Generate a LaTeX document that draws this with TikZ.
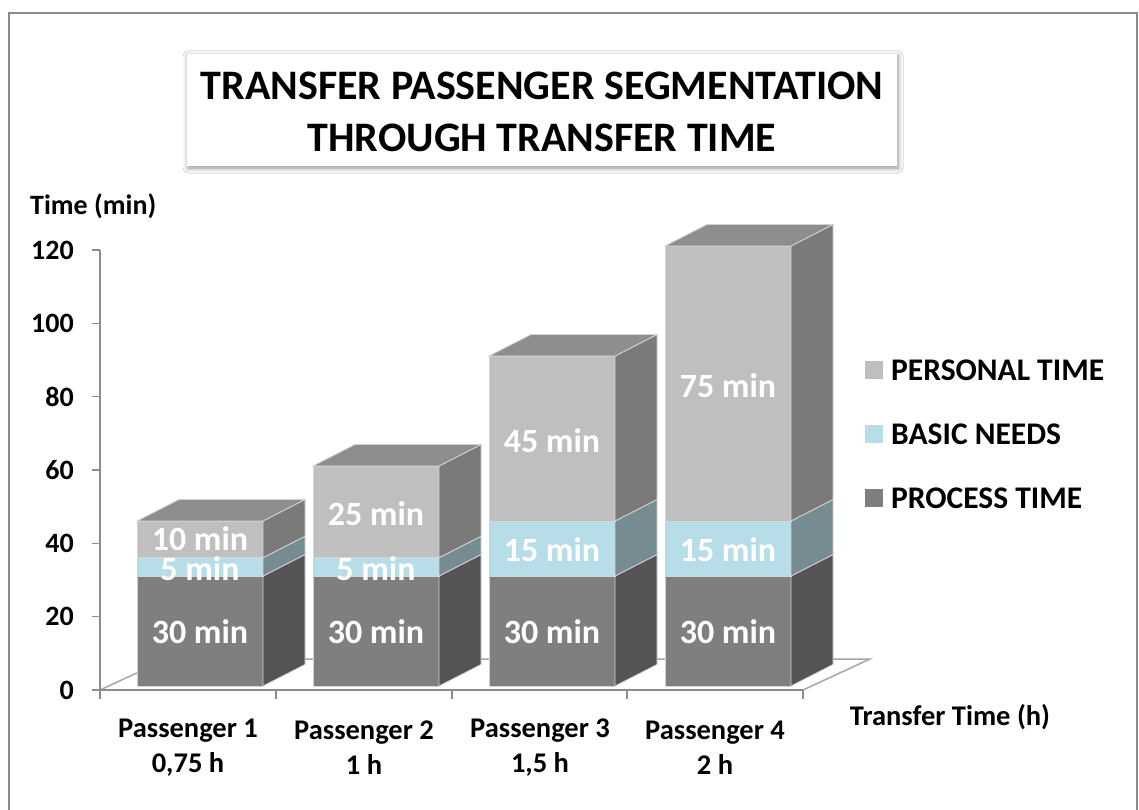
\documentclass[tikz,border=0pt]{standalone}
\usepackage{fontspec}
\setmainfont{Carlito}
\usetikzlibrary{shadows.blur}
\definecolor{framec}{HTML}{8A8A8A}
\definecolor{axisc}{HTML}{8C8C8C}
\definecolor{floorc}{HTML}{A6A6A6}
\definecolor{edgec}{HTML}{D4D4D4}
\definecolor{perfront}{HTML}{BFBFBF}
\definecolor{perside}{HTML}{7A7A7A}
\definecolor{pertop}{HTML}{8E8E8E}
\definecolor{basfront}{HTML}{B7DEE8}
\definecolor{basside}{HTML}{768C92}
\definecolor{profront}{HTML}{7F7F7F}
\definecolor{proside}{HTML}{545454}
\newcommand\barseg[5]{%
  \filldraw[fill=#4, draw=edgec, line width=0.8pt] (#1,#3) rectangle (#1+126,#2);
  \filldraw[fill=#5, draw=edgec, line width=0.8pt] (#1+126,#3) -- (#1+168,#3-21.5) -- (#1+168,#2-21.5) -- (#1+126,#2) -- cycle;
}
\newcommand\bartop[2]{%
  \filldraw[fill=pertop, draw=edgec, line width=0.8pt] (#1,#2) -- (#1+42,#2-21.5) -- (#1+168,#2-21.5) -- (#1+126,#2) -- cycle;
}
\tikzset{
  barlbl/.style={text=white, font=\fontsize{34}{40}\selectfont\bfseries, inner sep=0pt},
  ylbl/.style={anchor=east, font=\fontsize{28}{32}\selectfont\bfseries, inner sep=0pt},
  xlbl/.style={align=center, font=\fontsize{28.5}{35}\selectfont\bfseries, inner sep=0pt},
  leglbl/.style={anchor=west, font=\fontsize{31.5}{36}\selectfont\bfseries, inner sep=0pt},
  legbox/.style={minimum size=18pt, inner sep=0pt},
  axisline/.style={draw=axisc, line width=1.5pt},
}
\begin{document}
\begin{tikzpicture}[x=1pt,y=-1pt]
\useasboundingbox (0,0) rectangle (1139,810);
\fill[white] (0,0) rectangle (1139,810);
% outer frame
\draw[framec, line width=2pt] (9,810) -- (9,13) -- (1137,13) -- (1137,810);
% title
\node[draw=none, fill=white, minimum width=710pt, minimum height=112pt,
      blur shadow={shadow xshift=1pt, shadow yshift=-2pt, shadow blur radius=5pt, shadow opacity=45}] (titlebox) at (542,110) {};
\node[align=center, font=\fontsize{42}{52}\selectfont\bfseries, inner sep=0pt] (titletext) at (542,112)
  {TRANSFER PASSENGER SEGMENTATION\\THROUGH TRANSFER TIME};
% floor
\draw[draw=floorc, line width=1.5pt] (100,690) -- (167,659) -- (870,659) -- (803,690);
% y axis
\draw[axisline] (100,250) -- (100,690);
\foreach \v/\yy in {0/690,20/616.7,40/543.3,60/470,80/396.7,100/323.3,120/250}{
  \draw[axisline] (92,\yy) -- (100,\yy);
  \node[ylbl] (yl\v) at (74,\yy) {\v};
}
% x axis
\draw[axisline] (100,690) -- (803,690);
\foreach \xx in {100,276,452,627,803}{
  \draw[axisline] (\xx,690) -- (\xx,699);
}
\node[anchor=west, font=\fontsize{28}{32}\selectfont\bfseries, inner sep=0pt] (ytitle) at (30,206) {Time (min)};
\node[font=\fontsize{28.5}{32}\selectfont\bfseries, inner sep=0pt] (xtitle) at (950,717) {Transfer Time (h)};
% bars
\barseg{137}{576}{686}{profront}{proside}
\barseg{137}{557.7}{576}{basfront}{basside}
\barseg{137}{521}{557.7}{perfront}{perside}
\bartop{137}{521}
\barseg{313}{576}{686}{profront}{proside}
\barseg{313}{557.7}{576}{basfront}{basside}
\barseg{313}{466}{557.7}{perfront}{perside}
\bartop{313}{466}
\barseg{489}{576}{686}{profront}{proside}
\barseg{489}{521}{576}{basfront}{basside}
\barseg{489}{356}{521}{perfront}{perside}
\bartop{489}{356}
\barseg{665}{576}{686}{profront}{proside}
\barseg{665}{521}{576}{basfront}{basside}
\barseg{665}{246}{521}{perfront}{perside}
\bartop{665}{246}
% bar labels
\node[barlbl] (p1) at (200,632) {30 min};
\node[barlbl] (b1) at (200,569) {5 min};
\node[barlbl] (t1) at (200,539) {10 min};
\node[barlbl] (p2) at (376,632) {30 min};
\node[barlbl] (b2) at (376,569) {5 min};
\node[barlbl] (t2) at (376,514) {25 min};
\node[barlbl] (p3) at (552,632) {30 min};
\node[barlbl] (b3) at (552,550) {15 min};
\node[barlbl] (t3) at (552,441) {45 min};
\node[barlbl] (p4) at (728,632) {30 min};
\node[barlbl] (b4) at (728,550) {15 min};
\node[barlbl] (t4) at (728,386) {75 min};
% x labels
\node[xlbl] (c1) at (188,748) {Passenger 1\\0,75 h};
\node[xlbl] (c2) at (364,748) {Passenger 2\\1 h};
\node[xlbl] (c3) at (540,748) {Passenger 3\\1,5 h};
\node[xlbl] (c4) at (715,748) {Passenger 4\\2 h};
% legend
\node[legbox, fill=perfront] (lg1) at (874,370) {};
\node[leglbl] (lt1) at (891,370) {PERSONAL TIME};
\node[legbox, fill=basfront] (lg2) at (874,434) {};
\node[leglbl] (lt2) at (891,434) {BASIC NEEDS};
\node[legbox, fill=profront] (lg3) at (874,498) {};
\node[leglbl] (lt3) at (891,498) {PROCESS TIME};
\end{tikzpicture}
\end{document}
